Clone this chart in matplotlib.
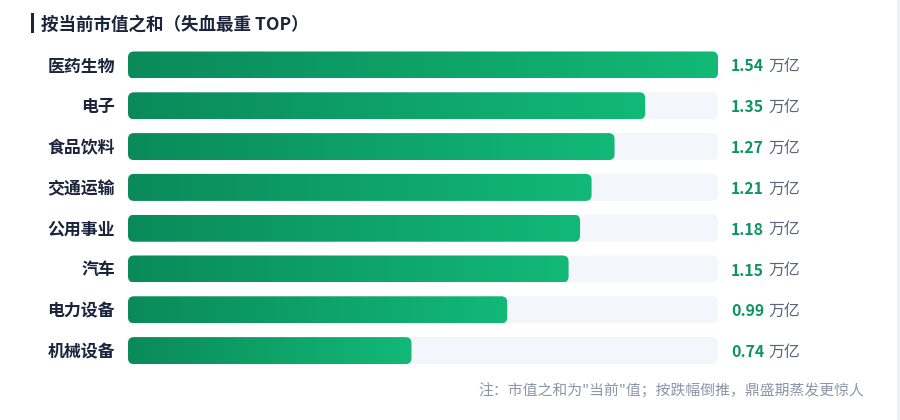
import matplotlib
matplotlib.use("Agg")
import matplotlib.pyplot as plt
import numpy as np
from matplotlib.patches import FancyBboxPatch, Rectangle
from matplotlib.colors import LinearSegmentedColormap
from matplotlib.transforms import offset_copy

plt.rcParams['font.family'] = ['Noto Sans CJK SC', 'DejaVu Sans']

# data
sectors = ['医药生物', '电子', '食品饮料', '交通运输', '公用事业', '汽车', '电力设备', '机械设备']
market_cap = [1.54, 1.35, 1.27, 1.21, 1.18, 1.15, 0.99, 0.74]  # 万亿
unit = '万亿'
title = '按当前市值之和（失血最重 TOP）'
note = '注：市值之和为"当前"值；按跌幅倒推，鼎盛期蒸发更惊人'

W, H = 900, 420
fig = plt.figure(figsize=(W / 100, H / 100), dpi=100)
fig.patch.set_facecolor('white')

# axes in pixel layout: bars start at x=128, track width 590
row_px = 40.8
top_px = 65 - row_px / 2
ax_h = row_px * len(sectors)
ax = fig.add_axes([128 / W, (H - top_px - ax_h) / H, 590 / W, ax_h / H])
xmax = max(market_cap)
ax.axis('off')

bar_h = 27 / row_px
x_per_px = xmax / 590
y_per_px = 1 / row_px
aspect = y_per_px / x_per_px
radius = 6 * x_per_px

green = LinearSegmentedColormap.from_list('g', ['#0a8a5a', '#12b977'])
grad = np.linspace(0, 1, 256).reshape(1, -1)

dark = '#1b243a'
for i, (name, v) in enumerate(zip(sectors, market_cap)):
    track = FancyBboxPatch((0, i - bar_h / 2), xmax, bar_h,
                           boxstyle=f'round,pad=0,rounding_size={radius}',
                           mutation_aspect=aspect, fc='#f3f6fa', ec='none', zorder=1)
    ax.add_patch(track)
    bar = FancyBboxPatch((0, i - bar_h / 2), v, bar_h,
                         boxstyle=f'round,pad=0,rounding_size={radius}',
                         mutation_aspect=aspect, fc='none', ec='none', zorder=2)
    ax.add_patch(bar)
    im = ax.imshow(grad, cmap=green, aspect='auto', zorder=2,
                   extent=(0, v, i + bar_h / 2, i - bar_h / 2))
    im.set_clip_path(bar)

    # category label
    ax.text(0, i, name, ha='right', va='center', fontsize=12.2,
            fontweight='bold', color=dark,
            transform=offset_copy(ax.transData, fig=fig, x=-13, y=-1.5, units='dots'))
    # value label
    t = ax.text(xmax, i, f'{v:.2f}', ha='left', va='center', fontsize=11.4,
                fontweight='bold', color='#0e9460',
                transform=offset_copy(ax.transData, fig=fig, x=13, y=-1.5, units='dots'))
    ax.annotate(unit, xy=(1, 0.5), xycoords=t, xytext=(3, 0), textcoords='offset points',
                ha='left', va='center', fontsize=11.4, color='#5a6478')

ax.set_xlim(0, xmax)
ax.set_ylim(len(sectors) - 0.5, -0.5)

# title with accent bar
fig.add_artist(Rectangle((31 / W, 1 - 33 / H), 3 / W, 20 / H, transform=fig.transFigure,
                         fc=dark, ec='none'))
fig.text(41 / W, 1 - 25 / H, title, ha='left', va='center', fontsize=12.6,
         fontweight='bold', color=dark)

# footnote
fig.text(864 / W, 1 - 391 / H, note, ha='right', va='center', fontsize=10.7, color='#8c96a8')

# right edge strip
fig.add_artist(Rectangle((897 / W, 0), 3 / W, 1, transform=fig.transFigure,
                         fc='#eef1f6', ec='none'))

fig.savefig('out.png', dpi=100)
